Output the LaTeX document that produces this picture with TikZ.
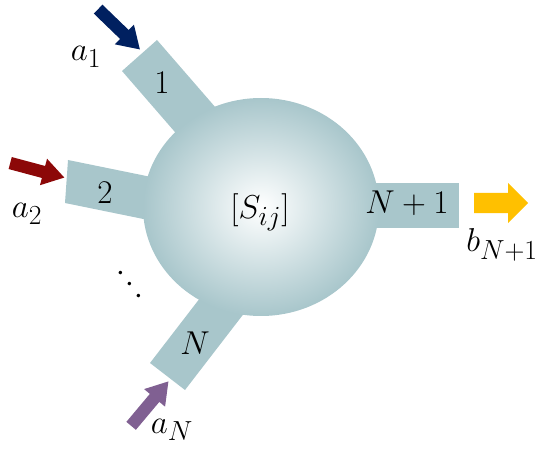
\documentclass[tikz,border=0pt]{standalone}
\usetikzlibrary{shapes.arrows}

\definecolor{portcol}{RGB}{168,198,203}
\definecolor{navyin}{RGB}{0,32,96}
\definecolor{redin}{RGB}{140,8,8}
\definecolor{purpin}{RGB}{128,96,146}
\definecolor{goldout}{RGB}{255,192,0}

\begin{document}
\begin{tikzpicture}
  [x=1pt,y=1pt,
   port/.style={fill=portcol},
   lbl/.style={inner sep=0pt,font=\Huge,scale=1.33,transform shape},
   wave/.style={single arrow,draw=none,inner xsep=0pt,inner ysep=6pt,anchor=tail,
     minimum height=58pt,single arrow head extend=7.5pt,single arrow tip angle=65}]
  \useasboundingbox (0,0) rectangle (541,453);

  % ports
  \fill[port] (122,382) -- (157,413) -- (229,330) -- (194,299) -- cycle;
  \fill[port] (68,293) -- (65,250) -- (163,230) -- (166,273) -- cycle;
  \fill[port] (150,90) -- (185,63) -- (252,150) -- (217,177) -- cycle;
  \fill[port] (340,225) rectangle (459,270);
  \shade[inner color=white,outer color=portcol] (261,246) ellipse [x radius=118,y radius=109];

  \node[lbl] (p1) at (162,370) {$1$};
  \node[lbl] (p2) at (105,260) {$2$};
  \node[lbl] (pN) at (195,110) {$N$};
  \node[lbl] (pN1) at (407,250) {$N+1$};
  \node[lbl] (S) at (260,241) {$[S_{ij}]$};
  \node[lbl,rotate=-52] (dots) at (129,168) {$\cdots$};

  \node[lbl] (a1) at (86,396) {$a_1$};
  \node[lbl] (a2) at (27,239) {$a_2$};
  \node[lbl] (aN) at (172,23) {$a_N$};
  \node[lbl] (b) at (502,208) {$b_{N+1}$};

  % waves in and out
  \node[wave,fill=navyin,rotate=-44] (w1) at (98,444) {};
  \node[wave,fill=redin,rotate=-15,minimum height=56pt] (w2) at (10,290) {};
  \node[wave,fill=purpin,rotate=50] (wN) at (131,27) {};
  \node[wave,fill=goldout,minimum height=54pt,inner ysep=10pt,
    single arrow head extend=10pt,single arrow tip angle=90] (wout) at (474,250) {};
\end{tikzpicture}
\end{document}
